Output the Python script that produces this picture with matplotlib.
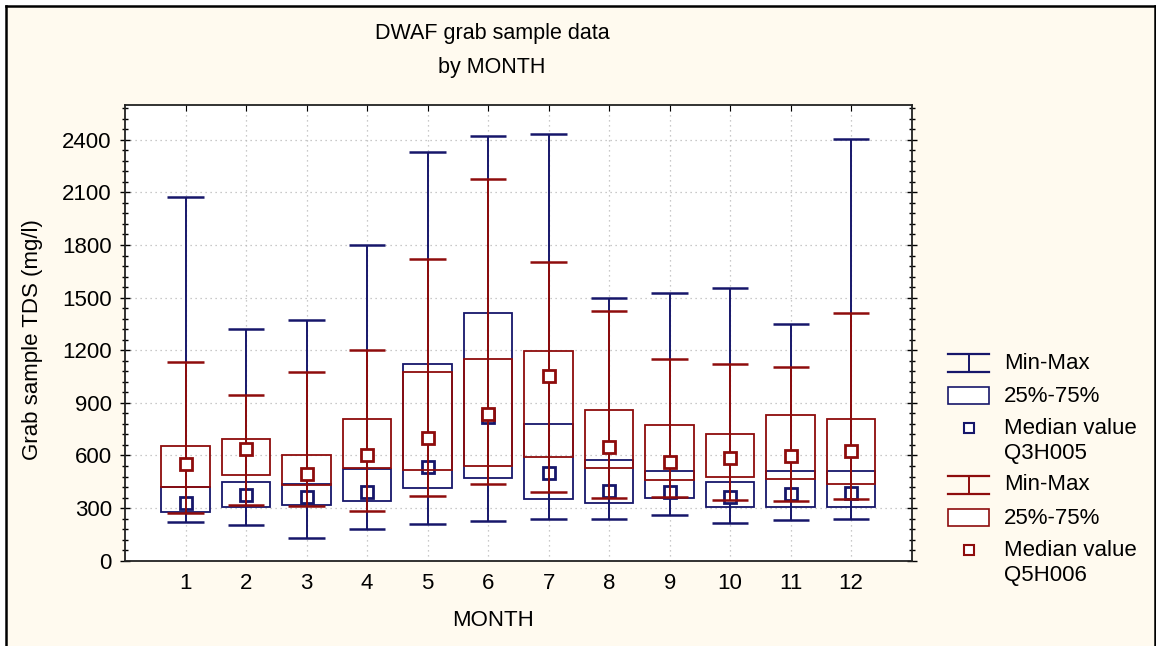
import matplotlib
matplotlib.use("Agg")
import matplotlib.pyplot as plt
from matplotlib.lines import Line2D
from matplotlib.patches import Rectangle
from matplotlib.ticker import MultipleLocator

plt.rcParams['font.family'] = ['Liberation Sans', 'DejaVu Sans']

months = [1, 2, 3, 4, 5, 6, 7, 8, 9, 10, 11, 12]
month_labels = [str(m) for m in months]

# Q3H005 (navy)
q3_min = [222, 201, 129, 179, 209, 224, 237, 236, 260, 216, 233, 236]
q3_p25 = [279, 309, 315, 340, 412, 469, 349, 327, 357, 306, 307, 304]
q3_med = [327, 376, 364, 393, 535, 819, 501, 398, 393, 361, 380, 385]
q3_p75 = [423, 446, 440, 525, 1123, 1413, 782, 573, 512, 450, 514, 514]
q3_max = [2071, 1322, 1371, 1802, 2331, 2424, 2435, 1497, 1525, 1556, 1347, 2403]

# Q5H006 (dark red)
q5_min = [270, 319, 311, 283, 370, 436, 393, 355, 364, 345, 340, 353]
q5_p25 = [423, 488, 431, 526, 516, 541, 590, 526, 459, 476, 467, 440]
q5_med = [554, 637, 497, 605, 702, 839, 1055, 649, 560, 584, 598, 624]
q5_p75 = [654, 692, 605, 806, 1075, 1152, 1195, 857, 776, 723, 833, 806]
q5_max = [1131, 943, 1074, 1201, 1722, 2178, 1705, 1425, 1149, 1121, 1106, 1415]

NAVY = '#16166a'
RED = '#8e0c0c'
BG = '#fffaef'
FS = 16

W, H = 1156, 646
fig = plt.figure(figsize=(W / 100, H / 100), dpi=100)
fig.patch.set_facecolor('white')

def fx(x):
    return x / W

def fy(y):
    return 1 - y / H

# cream background with black border (left, top, right)
fig.add_artist(Rectangle((fx(6), 0), fx(1155) - fx(6), fy(6), transform=fig.transFigure,
                         facecolor=BG, edgecolor='none', zorder=-10))
for xs, ys in [([6, 6], [6, 646]), ([6, 1155], [6, 6]), ([1155, 1155], [6, 646])]:
    fig.add_artist(Line2D([fx(v) for v in xs], [fy(v) for v in ys], color='black', lw=1.8,
                          transform=fig.transFigure))

ax = fig.add_axes([fx(125), fy(560.7), fx(911.7) - fx(125), fy(104.7) - fy(560.7)])
ax.set_facecolor('white')
ax.set_xlim(0, 13)
ax.set_ylim(0, 2600)

def draw_series(mins, p25, med, p75, maxs, color, z):
    ax.vlines(months, mins, maxs, color=color, lw=1.4, zorder=z)
    ax.hlines(mins, [m - 0.3 for m in months], [m + 0.3 for m in months], color=color, lw=1.8, zorder=z)
    ax.hlines(maxs, [m - 0.3 for m in months], [m + 0.3 for m in months], color=color, lw=1.8, zorder=z)
    ax.bar(months, [b - a for a, b in zip(p25, p75)], bottom=p25, width=0.8, fill=False,
           edgecolor=color, lw=1.3, zorder=z)
    ax.plot(months, med, ls='none', marker='s', ms=8, mfc='white', mec=color, mew=2.0, zorder=z + 0.5)

draw_series(q3_min, q3_p25, q3_med, q3_p75, q3_max, NAVY, 3)
draw_series(q5_min, q5_p25, q5_med, q5_p75, q5_max, RED, 4)

ax.set_xticks(months)
ax.set_xticklabels(month_labels, fontsize=FS)
ax.yaxis.set_major_locator(MultipleLocator(300))
ax.yaxis.set_minor_locator(MultipleLocator(60))
ax.tick_params(axis='y', which='major', labelsize=FS, direction='inout', length=7, width=1,
               right=True, left=True, pad=6)
ax.tick_params(axis='y', which='minor', direction='inout', length=4, width=1, right=True, left=True)
ax.tick_params(axis='x', which='major', direction='in', length=4, top=True, bottom=False, pad=9)
ax.grid(True, which='major', color='#b8b8b8', ls=(0, (1, 3)), lw=0.9, zorder=0)
ax.set_axisbelow(True)
for s in ax.spines.values():
    s.set_linewidth(1.3)
    s.set_color('#222222')

fig.text(fx(33), fy(340), 'Grab sample TDS (mg/l)', rotation=90, ha='center', va='center', fontsize=FS)
fig.text(fx(493), fy(621), 'MONTH', ha='center', va='center', fontsize=FS)
fig.text(fx(492), fy(33), 'DWAF grab sample data', ha='center', va='center', fontsize=FS - 0.5)
fig.text(fx(492), fy(68), 'by MONTH', ha='center', va='center', fontsize=FS - 0.5)

# legend drawn manually
def legend_block(y0, color, station):
    # min-max symbol
    fig.add_artist(Line2D([fx(948), fx(989)], [fy(y0), fy(y0)], color=color, lw=1.6, transform=fig.transFigure))
    fig.add_artist(Line2D([fx(948), fx(989)], [fy(y0 + 18), fy(y0 + 18)], color=color, lw=1.6, transform=fig.transFigure))
    fig.add_artist(Line2D([fx(969), fx(969)], [fy(y0), fy(y0 + 18)], color=color, lw=1.4, transform=fig.transFigure))
    # box
    fig.add_artist(Rectangle((fx(948), fy(y0 + 50)), fx(989) - fx(948), fy(y0 + 33) - fy(y0 + 50),
                             transform=fig.transFigure, facecolor='white', edgecolor=color, lw=1.2))
    # median marker
    fig.add_artist(Line2D([fx(969)], [fy(y0 + 74)], marker='s', ms=7, mfc='white', mec=color, mew=1.5,
                          transform=fig.transFigure))
    fig.text(fx(1004), fy(y0 + 9), 'Min-Max', ha='left', va='center', fontsize=FS)
    fig.text(fx(1004), fy(y0 + 43), '25%-75%', ha='left', va='center', fontsize=FS)
    fig.text(fx(1004), fy(y0 + 75), 'Median value', ha='left', va='center', fontsize=FS)
    fig.text(fx(1004), fy(y0 + 99), station, ha='left', va='center', fontsize=FS)

legend_block(354, NAVY, 'Q3H005')
legend_block(476, RED, 'Q5H006')

fig.savefig('out.png', dpi=100, facecolor=fig.get_facecolor())
